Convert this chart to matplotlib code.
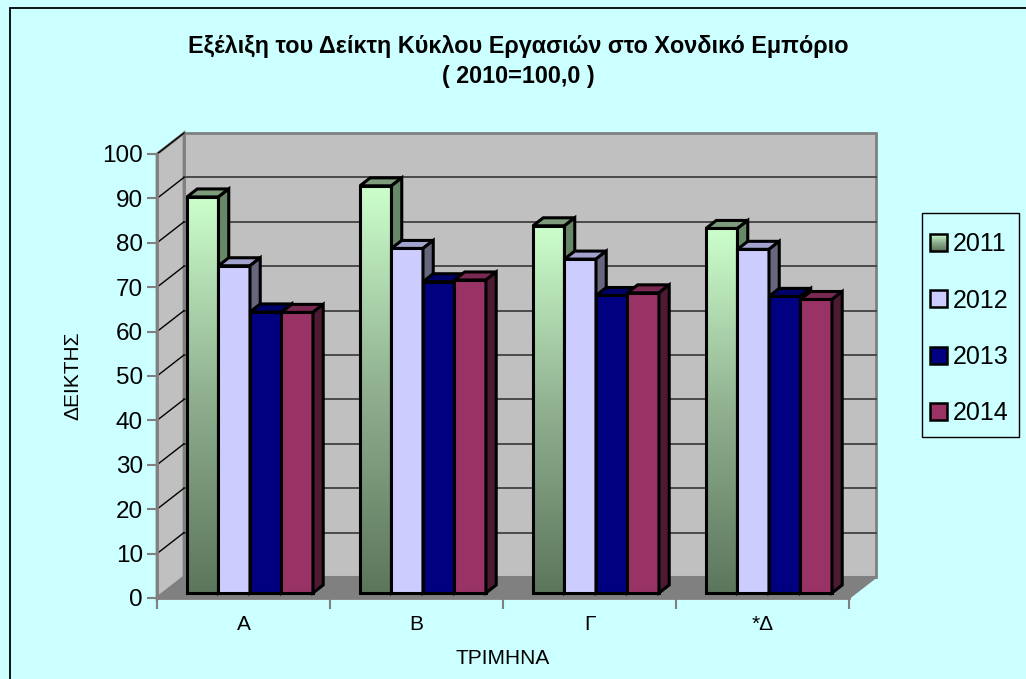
import matplotlib
matplotlib.use('Agg')
import matplotlib.pyplot as plt
from matplotlib.patches import Polygon, Rectangle
from matplotlib.colors import LinearSegmentedColormap
from matplotlib.legend_handler import HandlerBase
import numpy as np

# ---------------- data ----------------
categories = ['Α', 'Β', 'Γ', '*Δ']
series = ['2011', '2012', '2013', '2014']
v2011 = [89.2, 91.7, 82.7, 82.1]
v2012 = [73.7, 77.6, 75.2, 77.4]
v2013 = [63.3, 70.1, 67.0, 66.8]
v2014 = [63.2, 70.5, 67.6, 66.1]
yticks = list(range(0, 101, 10))
title1 = 'Εξέλιξη του Δείκτη Κύκλου Εργασιών στο Χονδικό Εμπόριο'
title2 = '( 2010=100,0 )'
xlabel = 'ΤΡΙΜΗΝΑ'
ylabel = 'ΔΕΙΚΤΗΣ'

values = [v2011, v2012, v2013, v2014]

# ---------------- style ----------------
plt.rcParams['font.family'] = ['Liberation Sans', 'DejaVu Sans']
BG = '#CCFFFF'
WALL = '#C0C0C0'
FLOOR = '#808080'
EDGE = '#808080'
front_cols = [None, '#CCCCFF', '#000080', '#993366']
top_cols = ['#7C9C7C', '#A3A3CF', '#00006A', '#7A2952']
side_cols = ['#668866', '#66667F', '#00004A', '#4D1A33']
grad_cmap = LinearSegmentedColormap.from_list('g2011', ['#5C765C', '#90B090', '#CCFFCC'])

W, H = 1026, 679
fig = plt.figure(figsize=(W / 100, H / 100), dpi=100, facecolor=BG)

# outer chart border
fig.patches.append(Rectangle((10 / W, -0.1), 1.2, 1 - 8 / H + 0.1, transform=fig.transFigure,
                             fill=False, edgecolor='black', lw=1.3, zorder=0))

x0px, x1px, y0px, y1px = 157, 849, 598, 154
ax = fig.add_axes([x0px / W, 1 - y0px / H, (x1px - x0px) / W, (y0px - y1px) / H])
ax.set_facecolor('none')
ncat = len(categories)
DX = 27 / ((x1px - x0px) / ncat)         # depth offset in category units
DY = 21 / ((y0px - y1px) / 100)          # depth offset in value units
f0, f1 = 0.24, 0.62                       # bar front/back depth fractions
bw = 0.182                                # bar width in category units

# walls and floor
ax.add_patch(Polygon([(DX, DY), (ncat + DX, DY), (ncat + DX, 100 + DY), (DX, 100 + DY)],
                     closed=True, facecolor=WALL, edgecolor=EDGE, lw=2, zorder=0.5, clip_on=False))
ax.add_patch(Polygon([(0, 0), (DX, DY), (DX, 100 + DY), (0, 100)],
                     closed=True, facecolor=WALL, edgecolor=EDGE, lw=2, zorder=0.5, clip_on=False))
for v in yticks[1:-1]:
    ax.plot([DX, ncat + DX], [v + DY, v + DY], color='#4A4A4A', lw=1.4, zorder=0.6, clip_on=False)
for v in yticks[1:]:
    ax.plot([0, DX], [v, v + DY], color='black', lw=1.0, zorder=0.6, clip_on=False)
ax.add_patch(Polygon([(0, 0), (ncat, 0), (ncat + DX, DY), (DX, DY)],
                     closed=True, facecolor=FLOOR, edgecolor=EDGE, lw=1.5, zorder=0.7, clip_on=False))

# bars
z = 2
ddx, ddy = (f1 - f0) * DX, (f1 - f0) * DY
for i in range(ncat):
    start = i + (1 - len(series) * bw) / 2
    for j, vals in enumerate(values):
        v = vals[i]
        xl = start + j * bw + f0 * DX
        xr = xl + bw
        yb = f0 * DY
        yt = v + f0 * DY
        if j == 0:
            grad = np.linspace(0, 1, 256).reshape(-1, 1)
            ax.imshow(grad, extent=[xl, xr, yb, yt], origin='lower', aspect='auto',
                      cmap=grad_cmap, zorder=z, interpolation='bilinear')
            ax.add_patch(Rectangle((xl, yb), bw, v, facecolor='none', edgecolor='black',
                                   lw=2.2, zorder=z + 0.1, clip_on=False))
        else:
            ax.add_patch(Rectangle((xl, yb), bw, v, facecolor=front_cols[j], edgecolor='black',
                                   lw=2.2, zorder=z + 0.1, clip_on=False))
        ax.add_patch(Polygon([(xl, yt), (xr, yt), (xr + ddx, yt + ddy), (xl + ddx, yt + ddy)],
                             closed=True, facecolor=top_cols[j], edgecolor='black', lw=2.2,
                             zorder=z + 0.1, clip_on=False))
        ax.add_patch(Polygon([(xr, yb), (xr, yt), (xr + ddx, yt + ddy), (xr + ddx, yb + ddy)],
                             closed=True, facecolor=side_cols[j], edgecolor='black', lw=2.2,
                             zorder=z + 0.1, clip_on=False))
        z += 1

ax.set_xlim(0, ncat)
ax.set_ylim(0, 100)

# axes / ticks
for s in ['top', 'right']:
    ax.spines[s].set_visible(False)
for s in ['left', 'bottom']:
    ax.spines[s].set_color(EDGE)
    ax.spines[s].set_linewidth(2)
    ax.spines[s].set_zorder(1)
ax.set_yticks(yticks)
ax.set_yticklabels([str(t) for t in yticks])
ax.tick_params(axis='y', length=7, width=1.5, color=EDGE, labelsize=17.5, pad=3)
ax.set_xticks(range(ncat + 1))
ax.set_xticklabels([''] * (ncat + 1))
ax.tick_params(axis='x', which='major', length=8, width=1.5, color=EDGE, direction='out')
ax.set_xticks([i + 0.5 for i in range(ncat)], minor=True)
ax.set_xticklabels(categories, minor=True)
ax.tick_params(axis='x', which='minor', length=0, labelsize=15, pad=12)

# titles and labels
fig.text(518 / W, 1 - 46 / H, title1, ha='center', va='center', fontsize=16.8, fontweight='bold')
fig.text(518 / W, 1 - 76 / H, title2, ha='center', va='center', fontsize=16.8, fontweight='bold')
fig.text(503 / W, 1 - 659 / H, xlabel, ha='center', va='center', fontsize=15)
fig.text(73 / W, 1 - 376 / H, ylabel, ha='center', va='center', fontsize=15, rotation=90)

# legend
class GradHandler(HandlerBase):
    def __init__(self, cmap):
        super().__init__()
        self.cmap = cmap

    def create_artists(self, legend, orig_handle, xdescent, ydescent, width, height, fontsize, trans):
        n = 24
        arts = []
        for k in range(n):
            arts.append(Rectangle((-xdescent, -ydescent + height * k / n), width, height / n * 1.05,
                                  facecolor=self.cmap(k / (n - 1)), edgecolor='none', transform=trans))
        arts.append(Rectangle((-xdescent, -ydescent), width, height, facecolor='none',
                              edgecolor='black', lw=1.8, transform=trans))
        return arts

handles = [Rectangle((0, 0), 1, 1, facecolor='#90B090', edgecolor='black', lw=1.8)]
for j in range(1, 4):
    handles.append(Rectangle((0, 0), 1, 1, facecolor=front_cols[j], edgecolor='black', lw=1.8))
fig.patches.append(Rectangle((922 / W, 1 - 437 / H), 97 / W, 224 / H, transform=fig.transFigure,
                             facecolor=BG, edgecolor='black', lw=1.0, zorder=1))
leg = fig.legend(handles, series, loc='upper left', bbox_to_anchor=(930 / W, 1 - 232 / H),
                 frameon=False, fontsize=18, handlelength=0.68, handleheight=0.68,
                 handletextpad=0.25, labelspacing=1.3, borderpad=0, borderaxespad=0,
                 handler_map={handles[0]: GradHandler(grad_cmap)})
leg.set_zorder(5)

fig.savefig('out.png', dpi=100, facecolor=BG)
